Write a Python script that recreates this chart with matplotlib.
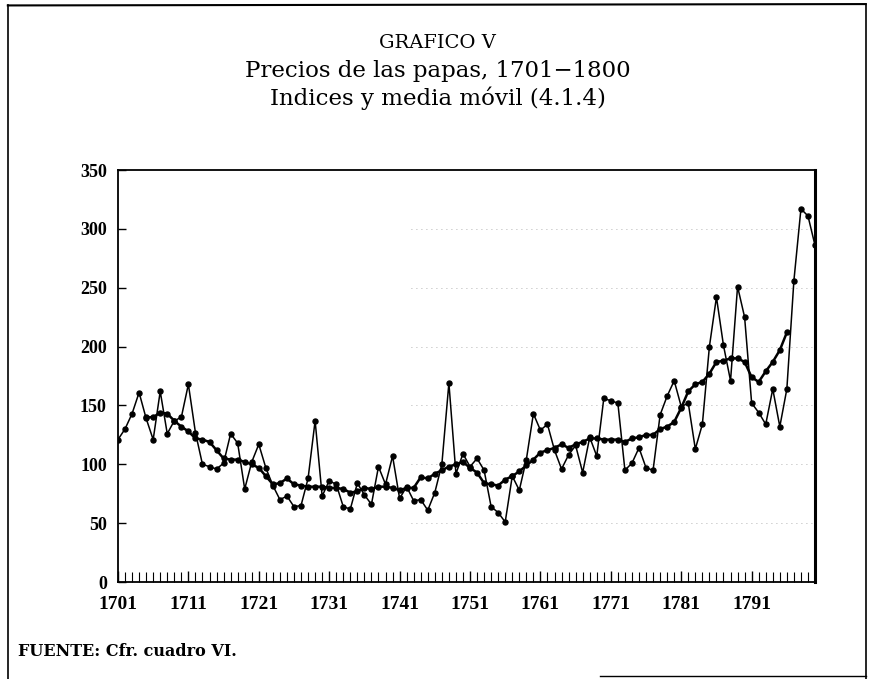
import numpy as np
import matplotlib
matplotlib.use("Agg")
import matplotlib.pyplot as plt
from matplotlib.lines import Line2D

# indices anuales, 1701-1800
years = np.arange(1701, 1801)
indices = [121, 130, 143, 161, 139, 121, 162, 126, 137, 140,
           168, 127, 100, 98, 96, 101, 126, 118, 79, 102,
           117, 97, 82, 70, 73, 64, 65, 88, 137, 73,
           86, 83, 64, 62, 84, 74, 66, 98, 83, 107,
           71, 81, 69, 70, 61, 76, 100, 169, 92, 109,
           98, 105, 95, 64, 59, 51, 90, 78, 104, 143,
           129, 134, 112, 96, 108, 116, 93, 123, 107, 156,
           154, 152, 95, 101, 114, 97, 95, 142, 158, 171,
           149, 152, 113, 134, 200, 242, 201, 171, 251, 225,
           152, 144, 134, 164, 132, 164, 256, 317, 311, 286]

# media movil (4.1.4), 1705-1796
ma_years = np.arange(1705, 1797)
media_movil = [140, 140, 144, 143, 137, 132,
               128, 122, 121, 119, 112, 105, 104, 104, 102, 100,
               97, 90, 83, 84, 88, 83, 82, 81, 81, 81,
               80, 80, 79, 76, 77, 80, 79, 81, 81, 80,
               78, 80, 80, 89, 88, 92, 95, 98, 100, 102,
               97, 93, 84, 83, 82, 87, 90, 94, 99, 104,
               110, 112, 114, 117, 114, 117, 119, 122, 122, 121,
               121, 121, 119, 122, 123, 125, 125, 130, 132, 136,
               148, 162, 168, 170, 177, 187, 188, 190, 190, 187,
               174, 170, 179, 187, 197, 212]

x_labels = [1701, 1711, 1721, 1731, 1741, 1751, 1761, 1771, 1781, 1791]
y_ticks = [0, 50, 100, 150, 200, 250, 300, 350]

serif = ["Liberation Serif", "DejaVu Serif"]
wide_serif = ["DejaVu Serif"]

fig = plt.figure(figsize=(8.7, 6.79), dpi=100)
ax = fig.add_axes([0.1356, 0.1428, 0.8012, 0.6068])

# lineas de rejilla tenues (restos del escaneo)
for v in y_ticks[1:-1]:
    ax.axhline(v, xmin=0.42, xmax=1.0, color="0.6", lw=0.6,
               ls=(0, (1, 5)), zorder=0)

ax.plot(years, indices, color="black", lw=1.1, marker="o", ms=3.6,
        zorder=3)
ax.plot(ma_years, media_movil, color="black", lw=1.8, marker="o", ms=3.6,
        zorder=4)

ax.set_xlim(1701, 1800)
ax.set_ylim(0, 350)
ax.set_xticks(x_labels)
ax.set_xticks(years, minor=True)
ax.set_yticks(y_ticks)
ax.tick_params(axis="x", which="major", direction="in", length=8, width=1,
               pad=10)
ax.tick_params(axis="x", which="minor", direction="in", length=7, width=0.8)
ax.tick_params(axis="y", direction="in", length=6, width=1, pad=8)
for lab in ax.get_xticklabels():
    lab.set_family(serif)
    lab.set_fontweight("bold")
    lab.set_fontsize(14)
for lab in ax.get_yticklabels():
    lab.set_family(serif)
    lab.set_fontweight("bold")
    lab.set_fontsize(13)

for s in ["left", "bottom", "top"]:
    ax.spines[s].set_linewidth(1.3)
ax.spines["right"].set_linewidth(2.2)

# titulo
fig.text(0.503, 0.936, "GRAFICO V", ha="center", va="center",
         family=wide_serif, fontsize=14)
fig.text(0.503, 0.895, "Precios de las papas, 1701\u22121800", ha="center",
         va="center", family=wide_serif, fontsize=16.5)
fig.text(0.503, 0.855, "Indices y media m\u00f3vil (4.1.4)", ha="center",
         va="center", family=wide_serif, fontsize=16.5)

fig.text(0.021, 0.04, "FUENTE: Cfr. cuadro VI.", ha="left", va="center",
         family=wide_serif, fontsize=11.5, fontweight="bold")

# marco de la pagina
fig.add_artist(Line2D([0.009, 0.009], [0.0, 0.992], color="black", lw=1.2))
fig.add_artist(Line2D([0.009, 0.995], [0.992, 0.994], color="black", lw=1.5))
fig.add_artist(Line2D([0.995, 0.995], [0.0, 0.994], color="black", lw=1.2))
fig.add_artist(Line2D([0.69, 0.995], [0.004, 0.004], color="black", lw=1.0))

fig.savefig("out.png", dpi=100)
